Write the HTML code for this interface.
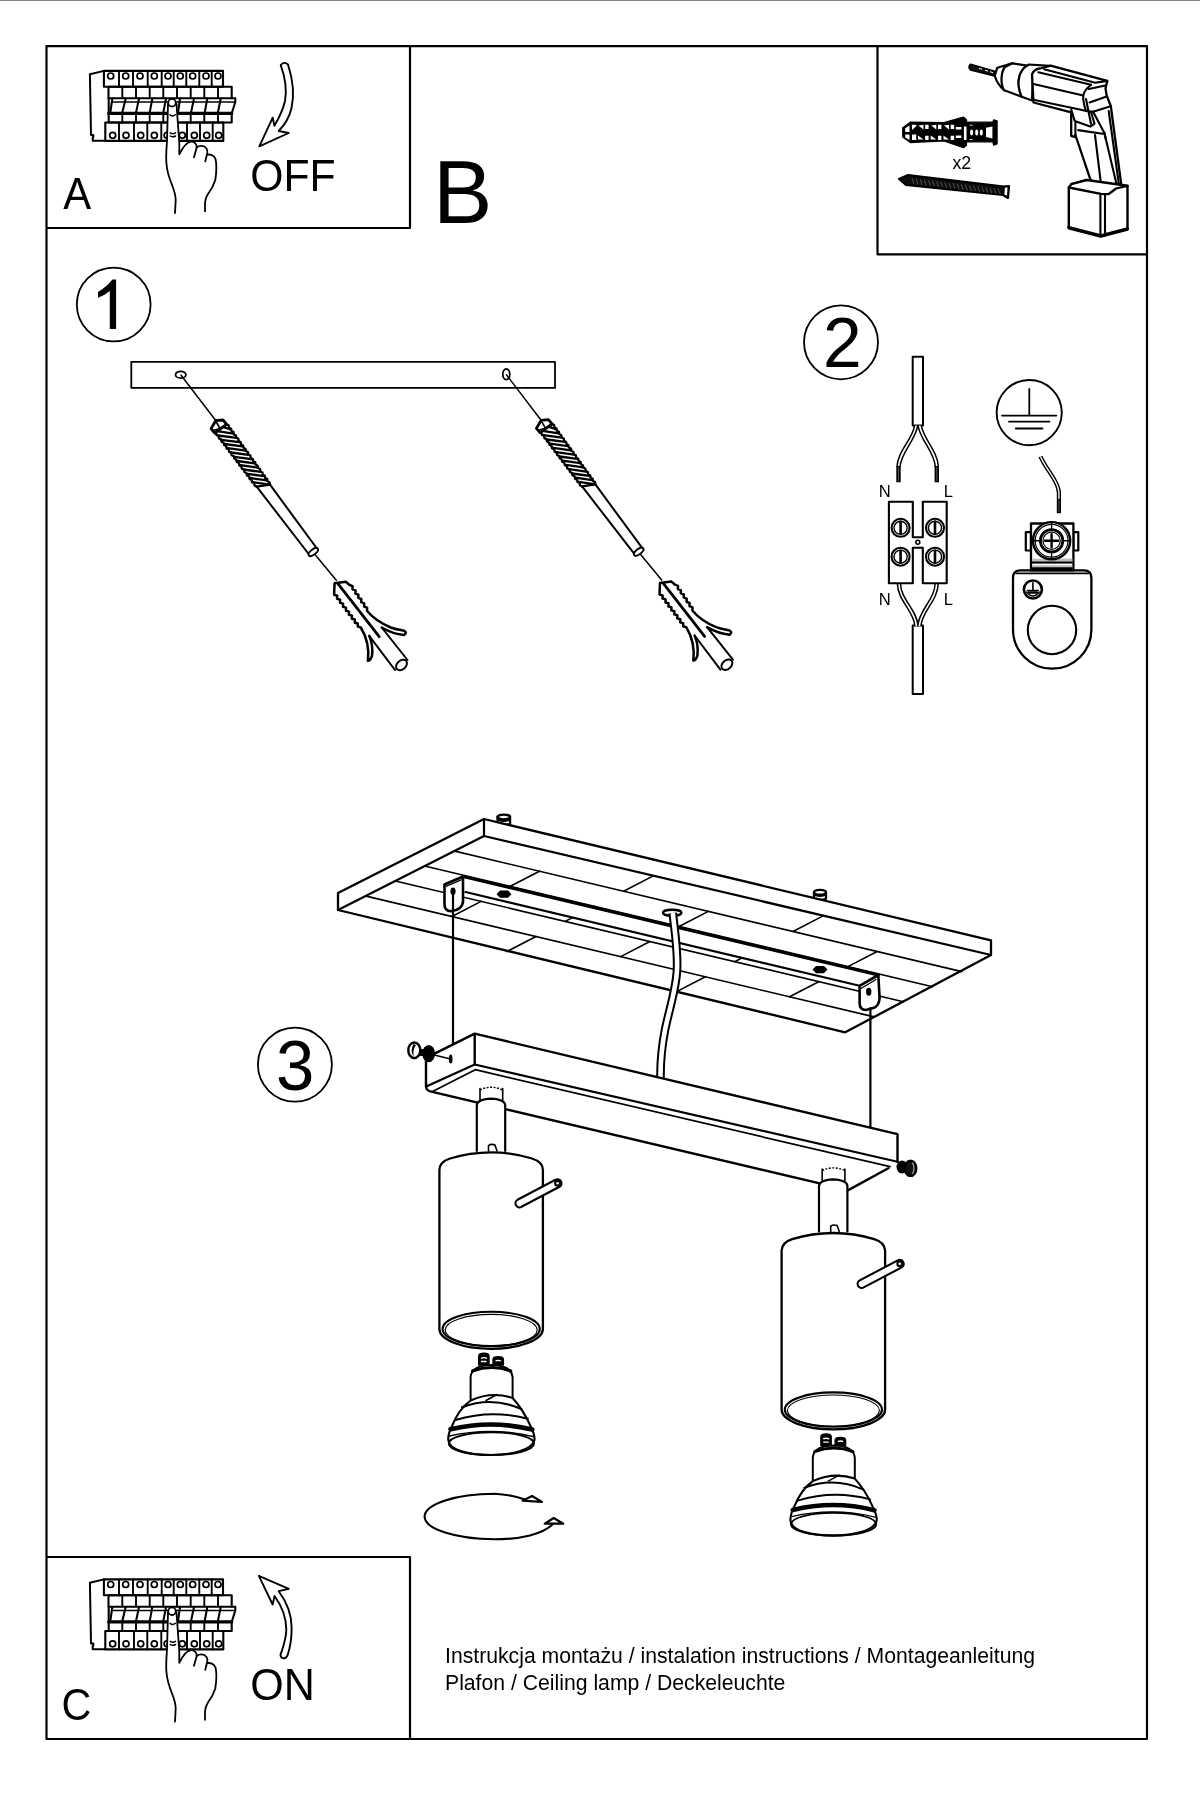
<!DOCTYPE html>
<html><head><meta charset="utf-8"><title>Instrukcja</title>
<style>
html,body{margin:0;padding:0;background:#fff;width:1200px;height:1800px;overflow:hidden}
svg{display:block;will-change:transform}
text{font-family:"Liberation Sans",sans-serif;fill:#000}
.s{fill:none;stroke:#000;stroke-linejoin:round;stroke-linecap:round}
.w{fill:#fff;stroke:#000;stroke-linejoin:round;stroke-linecap:round}
.t{fill:none;stroke:#000}
.f{fill:#000;stroke:none}
</style></head>
<body>
<svg width="1200" height="1800" viewBox="0 0 1200 1800" stroke-width="1.5">
<defs><g id="brk">
<path class="s" stroke-width="2" d="M103.9,70.9 L89.9,74.2 L91,135 L93.3,135 L93.3,137.3 L92.7,137.3 L92.7,140.7 L105.3,140.7"/>
<path class="s" stroke-width="2.1" d="M103.9,70.9 H223 V86.7 H103.9 Z"/>
<path class="s" stroke-width="1.9" d="M119,70.9 V86.7 M133,70.9 V86.7 M147.7,70.9 V86.7 M161.7,70.9 V86.7 M173.7,70.9 V86.7 M186.3,70.9 V86.7 M199.3,70.9 V86.7 M211.7,70.9 V86.7"/>
<g class="s" stroke-width="1.7"><circle cx="110.7" cy="76" r="3"/><circle cx="125.7" cy="76" r="3"/><circle cx="140" cy="76" r="3"/><circle cx="154.3" cy="76" r="3"/><circle cx="168" cy="76" r="3"/><circle cx="180.3" cy="76" r="3"/><circle cx="192.7" cy="76" r="3"/><circle cx="206" cy="76" r="3"/><circle cx="218" cy="76" r="3"/></g>
<path class="s" stroke-width="2.1" d="M108.5,86.7 H231.7 V98.3 M108.5,86.7 V98.3"/>
<path class="s" stroke-width="1.9" d="M122.3,86.7 V98 M136,86.7 V98 M149.7,86.7 V98 M163.3,86.7 V98 M177,86.7 V98 M190.7,86.7 V98 M204.3,86.7 V98 M218,86.7 V98"/>
<path class="s" stroke-width="2.1" d="M108.7,98.3 H235.3 V102 L231.7,113.5 M108.7,98.3 V113.7"/>
<path class="s" stroke-width="1.7" d="M111.7,102 H235"/>
<path class="s" stroke-width="3.2" stroke-linecap="butt" d="M108.7,113.4 H231.7"/>
<path class="s" stroke-width="2.1" d="M112.3,98.6 L110.3,112.6 M125.7,98.6 L122.3,112.6 M139,98.6 L136,112.6 M152.3,98.6 L149.7,112.6 M166,98.6 L163.3,112.6 M180,98.6 L178,112.6 M194,98.6 L191,112.6 M207.3,98.6 L204.7,112.6 M220.7,98.6 L218,112"/>
<path class="s" stroke-width="2.1" d="M108.7,113.7 V122.5 H231.7 V113.7"/>
<path class="s" stroke-width="1.9" d="M122.3,113.7 V122.5 M136,113.7 V122.5 M149.7,113.7 V122.5 M163.3,113.7 V122.5 M177,113.7 V122.5 M190.7,113.7 V122.5 M204.3,113.7 V122.5 M218,113.7 V122.5"/>
<path class="s" stroke-width="2.1" d="M105.3,122.5 H223.3 V140.9 H105.3 Z"/>
<path class="s" stroke-width="1.9" d="M119,122.5 V140.9 M134,122.5 V140.9 M147.3,122.5 V140.9 M161.3,122.5 V140.9 M174.5,122.5 V140.9 M187,122.5 V140.9 M200,122.5 V140.9 M212.7,122.5 V140.9"/>
<g class="s" stroke-width="1.7"><circle cx="112.7" cy="135.3" r="3"/><circle cx="126" cy="135.3" r="3"/><circle cx="140.7" cy="135.3" r="3"/><circle cx="154.3" cy="135.3" r="3"/><circle cx="167.1" cy="135.3" r="3"/><circle cx="182.3" cy="135.3" r="3"/><circle cx="194.3" cy="135.3" r="3"/><circle cx="206.7" cy="135.3" r="3"/><circle cx="218.7" cy="135.3" r="3"/></g>
<path fill="#fff" stroke="none" d="M168,104 L167,141 C166.3,150 166,160 166.5,164 C167,171 170,180 172,185 C174,190 175.7,195 175.7,200 L175,213 L205,212 L205,205 C205,200 207,196 209,193 C212,188 214.5,184 215.5,178 C216.8,170 217,163 215.5,159 C214,155 210,154 207.3,154.7 L207.3,152 C207.3,148 204,145.5 202,146 C199,146 197,147 196.5,147.5 C196.5,144 194,141.5 191,141.7 C187,142 183,147 179.3,154.3 L179.3,143.3 L176.5,104 Z"/>
<g class="s" stroke-width="1.8">
<path d="M168,104 L167,141 C166.3,150 166,160 166.5,164 C167,171 170,180 172,185 C174,190 175.7,195 175.7,200 L175,213"/>
<path d="M176.5,104 L179.3,143.3 L179.3,154.3 C183,147 187,142 191,141.7 C194,141.5 197,144 196.7,147.5 L194,157.3"/>
<path d="M196.7,147.5 C199,145.5 204,145 206.5,148.5 C207.5,150 207.5,152 207.3,153 L205.3,161.3"/>
<path d="M207.3,154.7 C210,154 214,155 215.5,159 C217,165 216.5,172 215.3,180 C213.5,186 211,190 208,194 C206,197 205,202 205,205 L205,211.3"/>
</g>
<circle class="w" stroke-width="1.8" cx="172" cy="102.7" r="3.8"/>
<path class="s" stroke-width="1.5" d="M170,114.8 Q172.5,117.3 175.3,114.8 M170.3,132.8 Q172.8,134.5 175.5,132.8 M170.3,136 Q172.8,137.7 175.5,136"/>

</g></defs>
<rect x="0" y="0" width="1200" height="1" fill="#808485"/>
<!-- frame -->
<g fill="none" stroke="#000" stroke-width="2.2" stroke-linejoin="round">
<path d="M46.5,46.2 H1147 V1739 H46.5 Z"/>
<path d="M410,46.2 V228 H46.5"/>
<path d="M877.5,46.2 V254.3 H1147"/>
<path d="M46.5,1557 H410 V1739"/>
</g>

<!-- OFF arrow -->
<path class="w" stroke-width="1.9" d="M280.7,65 Q284,61 288,64.5 C293,80 294.5,95 291.5,108 C289.5,117 284.5,125 278.7,131 L288.7,133 L259.3,146.3 L272.7,117.7 L274.4,125.7 C279,118 283,110 285,101 C287,90 285,77 280.7,65 Z"/>
<!-- ON arrow -->
<path class="w" stroke-width="1.9" d="M258.9,1575.9 L288.8,1588.8 L278.7,1591.2 C286,1601 291.5,1614 291.6,1627 C291.8,1638 290,1648 287.5,1655.5 Q285,1660 281.5,1657.5 Q279.5,1655 281.5,1652 C284.5,1643 286.3,1636 286.3,1629.5 C286.3,1618 281,1605 274.6,1596 L272.6,1604.5 Z"/>
<use href="#brk"/>
<use href="#brk" transform="translate(0,1508.5)"/>
<!-- section1 -->
<rect class="s" stroke-width="1.8" x="131.3" y="361.9" width="423.7" height="26"/>
<ellipse class="s" stroke-width="1.8" cx="180.7" cy="374.7" rx="5.2" ry="3.4"/>
<ellipse class="s" stroke-width="1.8" cx="506.3" cy="374.3" rx="3.5" ry="5.3"/>
<g id="anc"><path class="t" stroke-width="1.5" d="M180.7,374.7 L216.5,421.5"/>
<path fill="#fff" stroke="none" d="M216,432.7 L256.7,486.7 L270,484.7 L226.7,424.3 Z"/>
<path class="s" stroke-width="2.3" d="M216,432.7 L216.5,435.0 L218.5,436.1 L219.0,438.4 L221.1,439.4 L221.6,441.7 L223.6,442.8 L224.1,445.1 L226.2,446.2 L226.6,448.5 L228.7,449.6 L229.2,451.9 L231.3,452.9 L231.7,455.2 L233.8,456.3 L234.3,458.6 L236.3,459.7 L236.8,462.0 L238.9,463.1 L239.4,465.4 L241.4,466.4 L241.9,468.7 L244.0,469.8 L244.5,472.1 L246.5,473.2 L247.0,475.5 L249.1,476.6 L249.5,478.9 L251.6,479.9 L252.1,482.2 L254.2,483.3 L254.6,485.6 L256.7,486.7 M226.7,424.3 L228.7,425.4 L229.1,427.7 L231.1,428.8 L231.5,431.0 L233.5,432.1 L233.9,434.4 L235.9,435.5 L236.3,437.7 L238.3,438.8 L238.7,441.1 L240.7,442.2 L241.1,444.4 L243.1,445.5 L243.5,447.8 L245.6,448.9 L245.9,451.1 L248.0,452.2 L248.3,454.5 L250.4,455.6 L250.8,457.9 L252.8,459.0 L253.2,461.2 L255.2,462.3 L255.6,464.6 L257.6,465.7 L258.0,467.9 L260.0,469.0 L260.4,471.3 L262.4,472.4 L262.8,474.6 L264.8,475.7 L265.2,478.0 L267.2,479.1 L267.6,481.3 L269.6,482.4 L270.0,484.7"/>
<path class="s" stroke-width="2.3" d="M223.0,427.0 L230.4,429.4 M217.1,431.2 L233.4,433.6 M218.1,435.5 L236.4,437.9 M221.3,439.8 L239.5,442.1 M224.5,444.0 L242.5,446.4 M227.7,448.2 L245.6,450.6 M230.9,452.5 L248.6,454.9 M234.1,456.8 L251.7,459.1 M237.3,461.0 L254.7,463.4 M240.5,465.2 L257.8,467.6 M243.7,469.5 L260.8,471.9 M246.9,473.8 L263.9,476.1 M250.1,478.0 L266.9,480.4 M253.3,482.2 L270.0,484.6"/>
<path class="s" stroke-width="2.2" d="M256.7,486.7 L270,484.7"/>
<path class="w" stroke-width="2.8" d="M211,428.7 L215.7,420.7 L223,420 L226.7,424.3 L214.7,433 Z"/>
<path class="s" stroke-width="1.6" d="M215.7,421 L220,428.5 L226.5,424.5 M213,430.5 L220,428.5"/>
<path class="s" stroke-width="2" d="M256.7,486.7 L308.7,554 M270,484.7 L318,550"/>
<ellipse class="w" stroke-width="1.9" cx="313.3" cy="552" rx="5.6" ry="2.6" transform="rotate(-37 313.3 552)"/>
<path class="t" stroke-width="1.5" d="M315,554.5 L336.7,580.8"/>
<path class="s" stroke-width="2" d="M369.2,635.8 L395,670 M381.7,627.5 L407.5,660"/>
<ellipse class="w" stroke-width="2" cx="401.5" cy="665" rx="6.2" ry="4.4" transform="rotate(-42 401.5 665)"/>
<path fill="#fff" stroke="none" d="M334.6,583.3 L345.8,581.7 L349.6,585 L367,610.8 C372,617 380,623 390.8,627.5 C396,629.5 401,630 404.2,630.8 Q407,632.5 404,634.8 C398,634.5 392,633.5 381.7,627.5 L369.2,635.8 C371,641 372.5,648 372.5,653.3 C372,657 370,660 367.9,660.8 C369,652 368.5,642 360.8,627.5 L334.2,591.7 Z"/>
<path class="s" stroke-width="2.5" d="M345.8,581.7 L349.6,585 L352.6,586.1 L352.5,589.3 L355.5,590.4 L355.4,593.6 L358.4,594.7 L358.3,597.9 L361.3,599.0 L361.2,602.2 L364.2,603.3 L364.1,606.5 L367.1,607.6 L367.0,610.8 C372,617 380,623 390.8,627.5 C396,629.5 401,630 404.2,630.8 Q407.5,632.5 404,635 C398,634.5 392,633.5 381.7,627.5 M345.8,581.7 L334.6,583.3 L334.2,591.7 L334.2,594.8 L337.2,595.7 L337.1,598.8 L340.1,599.7 L340.1,602.8 L343.1,603.6 L343.0,606.8 L346.0,607.6 L346.0,610.7 L349.0,611.6 L348.9,614.7 L351.9,615.6 L351.9,618.7 L354.9,619.5 L354.8,622.7 L357.8,623.5 L357.8,626.6 L360.8,627.5 C366,636 369.5,648 367.9,660.8 Q370,661 372,656 C373,648 371.5,641 369.2,635.8"/>
<path class="s" stroke-width="2.8" stroke-linecap="butt" d="M338.3,584.2 L379.2,636.7"/></g>
<use href="#anc" transform="translate(325.4,-0.3)"/>
<!-- /section1 -->
<!-- drill -->
<path fill="#000" stroke="#000" stroke-width="1.2" stroke-linejoin="round" d="M902.7,127.7 L910.3,122.2 L943.9,122.6 L963.5,117.1 L966.5,119.7 L966.5,122.2 L992.8,122.2 L993.7,119.8 L997.1,120.9 L997.1,143.9 L993.7,145.2 L992.8,141.8 L966.5,141.8 L966.5,145.2 L963.5,147.7 L943.9,140.9 L910.3,142.6 L902.7,137.1 Z"/>
<path fill="#fff" d="M905.2,128.2 L909.5,125.6 L909.5,132.0 L905.2,132.0 Z M905.2,134.5 L909.5,134.5 L909.5,140.1 L905.2,137.5 Z M912.0,124.8 L916.3,124.8 L916.3,126.0 L913.3,129.0 L912.0,129.9 Z M912.0,134.5 L916.3,134.5 L916.3,140.1 L912.0,140.1 Z M918.4,125.6 L923.5,124.8 L923.5,129.4 Z M918.0,135.4 L923.5,139.6 L918.0,139.6 Z M931.2,125.6 L936.3,124.8 L936.3,129.4 Z M930.7,135.4 L936.3,139.6 L930.7,139.6 Z M943.9,125.6 L949.0,124.8 L949.0,129.4 Z M943.5,135.4 L949.0,139.6 L943.5,139.6 Z M925.2,124.8 L928.6,124.8 L928.6,129.0 L925.2,129.0 Z M925.2,135.8 L928.6,135.8 L928.6,140.1 L925.2,140.1 Z M938.0,124.8 L941.4,124.8 L941.4,129.0 L938.0,129.0 Z M938.0,135.8 L941.4,135.8 L941.4,140.1 L938.0,140.1 Z M950.7,124.8 L954.1,124.8 L954.1,129.0 L950.7,129.0 Z M950.7,135.8 L954.1,135.8 L954.1,140.1 L950.7,140.1 Z M955.8,126.9 L961.4,126.9 L961.4,129.4 L955.8,129.4 Z M955.8,135.4 L961.4,135.4 L961.4,137.9 L955.8,137.9 Z M963.9,126.5 L966.5,126.5 L966.5,140.1 L963.9,140.1 Z M969.4,124.8 L972.8,124.8 L972.8,125.6 L969.4,125.6 Z M969.4,139.2 L972.8,139.2 L972.8,140.1 L969.4,140.1 Z M986.0,127.7 L992.4,126.5 L992.4,138.4 L986.0,137.1 Z"/>
<g fill="#fff"><ellipse cx="971.6" cy="132.4" rx="1.5" ry="3"/><ellipse cx="976.7" cy="132.4" rx="1.5" ry="3"/><ellipse cx="981.3" cy="132.4" rx="1.5" ry="3"/></g>
<path fill="#0d0d0d" stroke="#000" stroke-width="2.2" stroke-linejoin="round" d="M899,179 L908,175 L1004,186.5 L1009,186 L1008,198 L1003,195 L906,185 Z"/>
<path class="w" stroke-width="1.8" d="M1004,186.8 L1008.5,186.3 L1007.8,197.5 L1003.5,194.8 Z"/>
<path fill="none" stroke="#484848" stroke-width="1.1" d="M912.0,178.3 L914.0,183.8 M916.1,178.8 L918.1,184.3 M920.2,179.3 L922.2,184.8 M924.3,179.8 L926.3,185.3 M928.4,180.2 L930.4,185.7 M932.5,180.7 L934.5,186.2 M936.6,181.2 L938.6,186.7 M940.7,181.7 L942.7,187.2 M944.8,182.2 L946.8,187.7 M948.9,182.7 L950.9,188.2 M953.0,183.2 L955.0,188.7 M957.1,183.7 L959.1,189.2 M961.2,184.2 L963.2,189.7 M965.3,184.7 L967.3,190.2 M969.4,185.2 L971.4,190.7 M973.5,185.6 L975.5,191.1 M977.6,186.1 L979.6,191.6 M981.7,186.6 L983.7,192.1 M985.8,187.1 L987.8,192.6 M989.9,187.6 L991.9,193.1 M994.0,188.1 L996.0,193.6 M998.1,188.6 L1000.1,194.1"/>
<path fill="#111" stroke="#000" stroke-width="1.6" stroke-linejoin="round" d="M970.5,64.2 Q967.5,67 970.5,70 L994.5,76 L994.8,71.3 Z"/>
<path fill="none" stroke="#fff" stroke-width="1" d="M979,68.3 L982,69.2 M985,70.2 L988,71.1 M990,71.7 L993,72.7"/>
<path class="w" stroke-width="2.2" d="M997.3,67.7 L1012.3,63.3 L1005,67 C1001.5,72 1001,84 1005,89.7 L1004.3,90.3 C999,86 996,80 994.7,75.7 Z"/>
<path class="w" stroke-width="2.2" d="M1012.3,63.3 L1027,65.7 C1019,71 1015.5,83 1021.7,96.7 L1004.3,90.3 C1000,84 1001,72 1005,67 Z"/>
<path class="w" stroke-width="2.2" d="M1027,65.7 L1029,64.5 L1050,65.8 L1033,74 L1032,100.5 L1021.7,96.7 C1015.5,83 1019,71 1027,65.7 Z"/>
<path class="w" stroke-width="2.3" d="M1050.6,65.7 L1107.3,80.9 L1105.5,88.3 L1106.6,95.4 L1110.8,106 L1121.3,185 L1117.5,188.3 L1100.8,186.7 L1086.7,180 L1071.3,184.2 L1084.2,184.5 L1091.7,181.5 L1090,178.3 L1075.4,135 L1075.4,137.2 L1071.2,135.8 L1071.2,112.4 L1033.5,102.5 L1032,74.3 Q1034,69 1040,68.5 Z"/>
<path class="s" stroke-width="2.1" d="M1044.2,69.2 L1095.2,82.7 L1107.3,80.9 M1038.3,72.2 L1091,84.8"/>
<path class="s" stroke-width="2.1" d="M1033.5,84 L1083.2,95.4 M1033.5,99.7 L1083.2,110.3 L1086,111"/>
<path class="s" stroke-width="2.1" d="M1091,84.8 Q1082,92 1083.2,99 Q1084,106 1086,111 L1093.1,111.7"/>
<path class="s" stroke-width="2.1" d="M1088.9,89 L1105.2,85.5 M1089.6,102.5 L1105.9,96.8 M1093.1,111.7 L1109,106.7"/>
<path class="s" stroke-width="2.1" d="M1086,99 L1091,123.7 M1093.1,111.7 L1104.4,133 L1106,140"/>
<path class="s" stroke-width="2.1" d="M1071.2,109.6 L1074.7,120.9 L1090.3,126.6 L1094.5,123.7 L1091,111.7 M1075.4,121.6 V135"/>
<path class="s" stroke-width="2.1" d="M1078.2,130.1 L1102.3,133.7 L1104.4,133"/>
<path class="s" stroke-width="2.1" d="M1095,135 L1101.3,186.7 M1104.4,133 L1117.5,188.3 M1108.7,111 L1119,185"/>
<path class="w" stroke-width="2.4" d="M1068.8,187.5 L1071.3,184.2 L1086.7,180 L1127.5,185.8 L1127.5,229.6 L1100.8,236.7 L1068.8,228.3 Z"/>
<path class="s" stroke-width="2.3" d="M1068.8,187.5 L1100.8,193.8 L1108.3,194.2 Q1113,191 1116,188.5 L1127.5,185.8"/>
<path class="s" stroke-width="2.1" d="M1100.4,193.8 V236 M1105,194.2 V235.5"/>
<path class="s" stroke-width="3.2" d="M1068.8,227.5 L1100.8,235.8 L1127.5,228.8"/>
<!-- /drill -->
<!-- sec2 -->
<path class="w" stroke-width="2" d="M912.7,356.8 H923 V425.5 H912.7 Z"/>
<path class="w" stroke-width="2" d="M912.7,625.5 H923 V694 H912.7 Z"/>
<path fill="none" stroke="#000" stroke-width="4.6" stroke-linecap="butt" d="M916.2,425.5 C914,440 899,452 898.5,467"/><path fill="none" stroke="#fff" stroke-width="1.6" stroke-linecap="butt" d="M916.2,425.5 C914,440 899,452 898.5,467"/>
<path fill="none" stroke="#000" stroke-width="4.6" stroke-linecap="butt" d="M919.6,425.5 C922,440 936.5,452 936.8,467"/><path fill="none" stroke="#fff" stroke-width="1.6" stroke-linecap="butt" d="M919.6,425.5 C922,440 936.5,452 936.8,467"/>
<path fill="none" stroke="#000" stroke-width="4.4" stroke-linecap="butt" d="M898.5,466 V482.3 M936.8,466 V482.3"/>
<path fill="none" stroke="#555" stroke-width="1" d="M898.5,467 V481 M936.8,467 V481"/>
<path fill="none" stroke="#000" stroke-width="4.6" stroke-linecap="butt" d="M898.9,583.3 C899,600 916,611 916.4,626"/><path fill="none" stroke="#fff" stroke-width="1.6" stroke-linecap="butt" d="M898.9,583.3 C899,600 916,611 916.4,626"/>
<path fill="none" stroke="#000" stroke-width="4.6" stroke-linecap="butt" d="M936.7,583.3 C936.5,600 920,611 919.4,626"/><path fill="none" stroke="#fff" stroke-width="1.6" stroke-linecap="butt" d="M936.7,583.3 C936.5,600 920,611 919.4,626"/>
<path class="w" stroke-width="2.1" d="M888.9,501.7 H912.8 V537.2 H922.8 V501.7 H946.7 V583.3 H922.8 V547.8 H912.8 V583.3 H888.9 Z"/>
<circle class="s" stroke-width="2.1" cx="900.6" cy="527.8" r="9"/><circle class="s" stroke-width="1.4" cx="900.6" cy="527.8" r="6.6"/>
<path class="s" stroke-width="2.6" stroke-linecap="butt" d="M900.6,521.8 V533.8"/>
<circle class="s" stroke-width="2.1" cx="935" cy="527.8" r="9"/><circle class="s" stroke-width="1.4" cx="935" cy="527.8" r="6.6"/>
<path class="s" stroke-width="2.6" stroke-linecap="butt" d="M935,521.8 V533.8"/>
<circle class="s" stroke-width="2.1" cx="900.6" cy="556.7" r="9"/><circle class="s" stroke-width="1.4" cx="900.6" cy="556.7" r="6.6"/>
<path class="s" stroke-width="2.6" stroke-linecap="butt" d="M900.6,550.7 V562.7"/>
<circle class="s" stroke-width="2.1" cx="935" cy="556.7" r="9"/><circle class="s" stroke-width="1.4" cx="935" cy="556.7" r="6.6"/>
<path class="s" stroke-width="2.6" stroke-linecap="butt" d="M935,550.7 V562.7"/>
<circle class="s" stroke-width="1.5" cx="917.8" cy="542.3" r="2"/>
<circle class="s" stroke-width="1.9" cx="1029.2" cy="412.6" r="32.6"/>
<path class="s" stroke-width="1.8" d="M1029.3,389 V415.6 M1002,415.6 H1056.3 M1009,421.7 H1049.4 M1015.8,428.5 H1042.5"/>
<path fill="none" stroke="#000" stroke-width="4.2" stroke-linecap="butt" d="M1040.5,456.5 C1046,470 1058,480 1058.9,492"/><path fill="none" stroke="#fff" stroke-width="1.3" stroke-linecap="butt" d="M1040.5,456.5 C1046,470 1058,480 1058.9,492"/>
<path fill="none" stroke="#000" stroke-width="4.2" stroke-linecap="butt" d="M1058.9,491 V513.2"/>
<path fill="none" stroke="#fff" stroke-width="1.3" stroke-linecap="butt" d="M1058.9,491 V499"/>
<path fill="none" stroke="#555" stroke-width="1" d="M1058.9,500 V512"/>
<path class="w" stroke-width="2.3" d="M1013,578 Q1013,570.4 1020.5,570.4 H1084 Q1091.4,570.4 1091.4,578 V629.5 A39.2,39.2 0 0 1 1013,629.5 Z"/>
<path class="s" stroke-width="1.6" d="M1016,573.4 H1088.5"/>
<circle class="s" stroke-width="2.1" cx="1052" cy="630" r="24.2"/>
<circle class="s" stroke-width="2.6" cx="1032.9" cy="589.5" r="9"/>
<path class="s" stroke-width="1.6" d="M1032.9,582.8 V590.5 M1027.4,590.5 H1038.4"/>
<path class="s" stroke-width="2.4" d="M1028.8,592.5 H1037"/>
<path class="s" stroke-width="1.3" d="M1026.5,592 Q1032.9,600 1039.3,592"/>
<path class="w" stroke-width="2.2" d="M1025.8,532.1 H1031 V550.5 H1025.8 Z M1073.4,532.1 H1078.3 V550.5 H1073.4 Z"/>
<path class="w" stroke-width="2.3" d="M1031,523.5 H1073.4 V570.4 H1031 Z"/>
<rect x="1032" y="558.6" width="40.4" height="2.6" fill="#bdbdbd"/>
<rect x="1032" y="561.4" width="40.4" height="2.2" fill="#000"/>
<rect x="1032" y="565.2" width="40.4" height="1.8" fill="#bdbdbd"/>
<rect x="1032" y="567.2" width="40.4" height="3.4" fill="#000"/>
<circle class="w" stroke-width="2.4" cx="1051.6" cy="540.75" r="18.6"/>
<circle class="s" stroke-width="1.2" cx="1051.6" cy="540.75" r="16.4"/>
<path class="s" stroke-width="1.3" d="M1051.6,522.5 V559 M1033,540.75 H1070.2"/>
<circle class="w" stroke-width="2.8" cx="1051.6" cy="540.75" r="11.2"/>
<circle class="s" stroke-width="1.2" cx="1051.6" cy="540.75" r="8.6"/>
<path class="s" stroke-width="2.4" d="M1051.6,534.3 V547.2 M1045.1,540.75 H1058.1"/>
<text x="878.8" y="496.7" font-size="16.6">N</text><text x="943.8" y="496.7" font-size="16.6">L</text>
<text x="878.8" y="605" font-size="16.6">N</text><text x="943.8" y="605" font-size="16.6">L</text>
<!-- /sec2 -->
<!-- sec3 -->
<path class="w" stroke-width="2.3" d="M497.55,817.0 V824.0 Q503.8,826.5 510.05,824.0 V817.0"/><ellipse class="w" stroke-width="2.3" cx="503.8" cy="817.0" rx="6.25" ry="2.4"/><path class="s" stroke-width="2" d="M499.05,820.0 Q503.8,822.0 508.55,820.0"/>
<path class="w" stroke-width="2.3" d="M814.0,892.25 V898.75 Q820,901.25 826.0,898.75 V892.25"/><ellipse class="w" stroke-width="2.3" cx="820" cy="892.25" rx="6.0" ry="2.4"/><path class="s" stroke-width="2" d="M815.5,895.0 Q820,897.0 824.5,895.0"/>
<path class="w" stroke-width="2.3" d="M338,893 L484,819 L991,940.4 L991,955 L845.2,1032.3 L338,910 Z"/>
<path class="s" stroke-width="2.2" d="M338,910 L484,836 L991,955 M484,819 V836"/>
<path class="s" stroke-width="1.6" d="M454.8,851.1 L961.8,971.6 M425.6,866.2 L932.6,986.7 M396.4,881.3 L903.4,1001.8 M367.2,896.4 L874.2,1016.9"/>
<path class="s" stroke-width="1.6" d="M652.8,876.1 L623.6,891.2 M822.2,916.4 L793.0,931.5 M539.5,871.2 L510.3,886.3 M708.3,911.4 L679.1,926.5 M877.1,951.5 L847.9,966.6 M594.4,906.3 L565.2,921.4 M763.8,946.6 L734.6,961.7 M481.1,901.4 L451.9,916.5 M649.9,941.5 L620.7,956.6 M818.7,981.7 L789.5,996.8 M536.0,936.5 L506.8,951.6 M705.4,976.8 L676.2,991.9"/>
<ellipse cx="672.2" cy="912.8" rx="9.2" ry="3" fill="#fff" stroke="#000" stroke-width="2.4"/>
<path fill="#fff" stroke="none" d="M463,876.5 L878.3,975 L859.6,985.8 L465.5,892 Z"/>
<path class="s" stroke-width="3.2" d="M463,876.5 L878.3,975"/>
<path class="s" stroke-width="2.2" d="M465.5,892 L859.6,985.8"/>
<path class="f" d="M496.5,894.2 L500,890.6 L508,890.6 L511.5,894.2 L508,897.8000000000001 L500,897.8000000000001 Z"/>
<path class="f" d="M812.5,969.6 L816,966.0 L824,966.0 L827.5,969.6 L824,973.2 L816,973.2 Z"/>
<path class="w" stroke-width="2.6" d="M444.5,884.5 L463,876.5 L463,902 Q462,910 451,911.3 Q444.5,911 444.5,904 Z"/>
<path class="s" stroke-width="1.4" d="M446.5,886.2 L461,879.8"/>
<ellipse cx="453" cy="891.2" rx="2.6" ry="3.8" fill="#000"/>
<path class="w" stroke-width="2.6" d="M859.6,985.8 L878.3,975 L879.6,998.3 Q879,1006 873.3,1008 L865.8,1010 Q859.6,1010 859.6,1003 Z"/>
<path class="s" stroke-width="1.4" d="M861,988.5 L876,979.5"/>
<ellipse cx="868.75" cy="991.7" rx="2.7" ry="4" fill="#000"/>
<path class="s" stroke-width="2.2" d="M453,891 V1043.5 M870.4,1008 V1127"/>
<path fill="none" stroke="#000" stroke-width="8.6" stroke-linecap="butt" d="M672.8,913 C674.5,930 678,950 677,970 C676,990 669,1010 665,1030 C661.5,1048 660.3,1062 660.5,1078"/><path fill="none" stroke="#fff" stroke-width="4.6" stroke-linecap="butt" d="M672.8,913 C674.5,930 678,950 677,970 C676,990 669,1010 665,1030 C661.5,1048 660.3,1062 660.5,1078"/>
<path fill="#fff" stroke="none" d="M426,1057.8 L474.7,1033.7 L897.5,1134.2 L897.5,1161.7 L848.3,1190.1 L426,1090 Z"/>
<path class="s" stroke-width="2.4" d="M426,1057.8 L474.7,1033.7 L897.5,1134.2 L897.5,1161.7 M474.7,1033.7 V1064.5 M426,1057.8 V1086.5 Q426.3,1090.6 431.3,1091.7 L848.3,1190.1 L888.3,1168.3"/>
<path class="s" stroke-width="2.2" d="M426.2,1086.6 L474.7,1064.5 L897.5,1161.7"/>
<path class="s" stroke-width="1.7" d="M433,1091.3 L475.3,1069.7 L890,1166.7"/>
<path class="t" stroke-width="1.6" d="M430,1054 L450.7,1059"/>
<ellipse cx="450.7" cy="1059" rx="1.8" ry="4.6" fill="#000"/>
<ellipse cx="428.7" cy="1053.7" rx="6.4" ry="8.6" fill="#000"/>
<rect x="413" y="1049" width="14" height="7" fill="#000"/>
<ellipse cx="414.3" cy="1050.3" rx="6" ry="7.8" fill="#fff" stroke="#000" stroke-width="2.4"/>
<path fill="#000" d="M413.5,1044 Q409.5,1051 414,1057 Q412,1051 416,1045 Z"/>
<ellipse cx="902" cy="1167" rx="5.5" ry="6.5" fill="#000"/>
<rect x="902" y="1163" width="9" height="8" fill="#000"/>
<ellipse cx="910.5" cy="1168.3" rx="5.8" ry="7.6" fill="#111" stroke="#000" stroke-width="2.4"/>
<path fill="none" stroke="#bbb" stroke-width="1.1" d="M912.5,1162.5 Q915.5,1168.5 912.5,1174"/>
<g id="lamp"><path fill="none" stroke="#000" stroke-width="1.4" stroke-dasharray="2,1.5" d="M480,1090 Q491,1084.5 502.7,1090"/>
<path class="s" stroke-width="1.6" d="M480,1088.5 V1100 M502.7,1088.5 V1100"/>
<path class="w" stroke-width="2.2" d="M476.8,1151 V1105 Q477.3,1099.5 491,1098.7 Q504.7,1099.5 505.2,1105 V1151"/>
<path class="w" stroke-width="1.6" d="M488.5,1151 V1145.5 Q491,1143.5 495,1145 L497,1151"/>
<path class="w" stroke-width="2.3" d="M439.4,1329 V1170 Q439.5,1162 450,1158.5 Q470,1152.4 491.2,1152.4 Q512,1152.4 532,1158.5 Q542.8,1162 542.9,1170 V1329 A51.75,19.8 0 0 1 439.4,1329 Z"/>
<ellipse class="s" stroke-width="2.1" cx="491.2" cy="1329" rx="48.6" ry="17.2"/>
<ellipse class="s" stroke-width="1.1" cx="491.2" cy="1330" rx="46" ry="15.6"/>
<path fill="#fff" stroke="#000" stroke-width="2.1" stroke-linejoin="round" d="M517.5,1199.8 L555.5,1179.8 A4,4 0 0 1 559.5,1186.8 L521.5,1206.8 A4,4 0 0 1 517.5,1199.8 Z"/>
<circle class="s" stroke-width="2.2" cx="557.6" cy="1183.2" r="2.4"/>
<path fill="#000" stroke="#000" stroke-width="1.4" stroke-linejoin="round" d="M478.7,1365 V1356 Q479,1353.3 484,1353.3 Q489,1353.3 489,1356 V1365 Z"/>
<path fill="#000" stroke="#000" stroke-width="1.4" stroke-linejoin="round" d="M493,1365 V1359.5 Q493,1356.8 498.2,1356.8 Q503.4,1356.8 503.4,1359.5 V1365 Z"/>
<path fill="none" stroke="#fff" stroke-width="1.3" d="M481,1358.3 Q484,1357 487,1358.3 M495.5,1361 Q498.2,1359.8 501,1361 M481,1361.5 H486.5"/>
<path class="w" stroke-width="2" d="M470.6,1401 V1377 Q471.5,1365.3 491.5,1365 Q511.5,1365.3 512.6,1377 V1401"/>
<path class="s" stroke-width="3" d="M472.5,1371 Q491.5,1364 510.8,1371"/>
<path class="w" stroke-width="2.1" d="M470.6,1400.5 Q491.5,1391 512.6,1398 C519,1405 526,1416 530.5,1426 C533,1431 535,1435 534.5,1440 C532,1450 512,1455 491,1455 C468,1455 449,1450 448.3,1440 C447.8,1435 449.5,1431 452,1426 C456,1416 463,1406 470.6,1400.5 Z"/>
<path class="s" stroke-width="2" d="M462,1407.3 Q491.6,1395.9 521.4,1409"/>
<path class="s" stroke-width="1.5" d="M486,1400.5 L497,1394.5"/>
<path class="s" stroke-width="2" d="M455.5,1420 Q491.6,1409.1 527.8,1418.8"/>
<path class="s" stroke-width="4.6" d="M450.5,1429.3 Q491.6,1419.5 532.2,1429.6"/>
<ellipse class="s" stroke-width="2" cx="491.4" cy="1443.6" rx="42.6" ry="11.4"/>
<path class="s" stroke-width="1.3" d="M449.5,1436 Q491,1426.5 533,1436.5"/></g>
<use href="#lamp" transform="translate(342.2,80.6)"/>
<path class="s" stroke-width="2.1" d="M525,1499.6 C516,1496.3 506,1494.3 494.6,1493.7 A70,22.8 0 0 0 494.6,1539.3 C521,1539.3 543,1534 552.7,1524.3"/>
<path class="w" stroke-width="2.2" d="M522.7,1500.7 L532,1496 L542,1502 Z"/>
<path class="w" stroke-width="2.2" d="M544.7,1523.7 L553.7,1518 L563.3,1523.7 Z"/>
<!-- /sec3 -->
<!-- texts -->
<text transform="translate(63.2,208.6) scale(0.94,1)" font-size="44.5">A</text>
<text transform="translate(61.6,1719.5) scale(0.92,1)" font-size="45">C</text>
<text transform="translate(250.2,191.3) scale(0.982,1)" font-size="43.5">OFF</text>
<text transform="translate(250.2,1699.6) scale(0.99,1)" font-size="43.5">ON</text>
<text x="433" y="223" font-size="89">B</text>
<text x="952.4" y="168.9" font-size="17.8">x2</text>

<!-- circles -->
<g class="s" stroke-width="1.8">
<circle cx="113.7" cy="304.5" r="36.9"/>
<circle cx="841" cy="342.3" r="37"/>
<circle cx="294.9" cy="1064.6" r="37"/>
</g>
<path class="f" d="M109.8,329 L116.1,329 L116.1,279.5 L112.4,279.5 Q106.5,287 98,292 L98,297.7 Q105,295 109.8,290.9 Z"/>
<text transform="translate(822.9,366.5) scale(0.98,1)" font-size="71">2</text>
<text transform="translate(276,1089.6) scale(0.97,1)" font-size="71">3</text>

<text x="445" y="1662.5" font-size="21.2">Instrukcja montażu / instalation instructions / Montageanleitung</text>
<text x="445" y="1690" font-size="21.2">Plafon / Ceiling lamp / Deckeleuchte</text>

</svg>
</body></html>
